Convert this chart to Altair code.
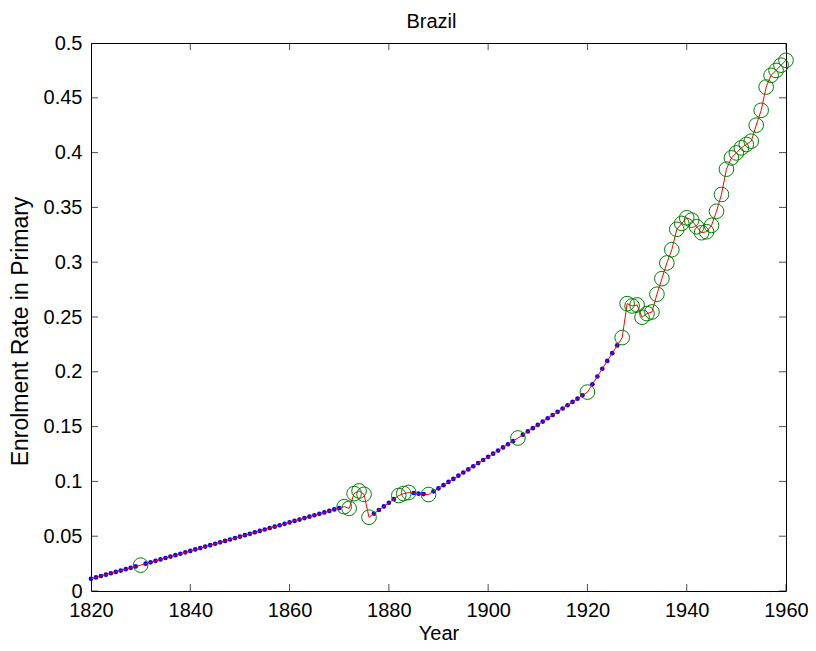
import altair as alt
import pandas as pd

# Observed years (green circles)
obs_years = [1830, 1871, 1872, 1873, 1874, 1875, 1876, 1882, 1883, 1884, 1888,
             1906, 1920, 1927, 1928, 1929, 1930, 1931, 1932, 1933, 1934, 1935,
             1936, 1937, 1938, 1939, 1940, 1941, 1942, 1943, 1944, 1945, 1946,
             1947, 1948, 1949, 1950, 1951, 1952, 1953, 1954, 1955, 1956, 1957,
             1958, 1959, 1960]
obs_values = [0.0236, 0.0770, 0.0754, 0.0889, 0.0913, 0.0882, 0.0673, 0.0871, 0.0889, 0.0899, 0.0880,
              0.1396, 0.1815, 0.2312, 0.2622, 0.2601, 0.2610, 0.2498, 0.2531, 0.2546, 0.2708, 0.2850,
              0.2993, 0.3114, 0.3300, 0.3354, 0.3405, 0.3384, 0.3323, 0.3269, 0.3278, 0.3336, 0.3465,
              0.3618, 0.3849, 0.3952, 0.3997, 0.4043, 0.4074, 0.4104, 0.4250, 0.4386, 0.4598, 0.4705,
              0.4750, 0.4798, 0.4842]

# Filled-in years (blue dots)
fill_years = [1820, 1821, 1822, 1823, 1824, 1825, 1826, 1827, 1828, 1829,
              1831, 1832, 1833, 1834, 1835, 1836, 1837, 1838, 1839, 1840,
              1841, 1842, 1843, 1844, 1845, 1846, 1847, 1848, 1849, 1850,
              1851, 1852, 1853, 1854, 1855, 1856, 1857, 1858, 1859, 1860,
              1861, 1862, 1863, 1864, 1865, 1866, 1867, 1868, 1869, 1870,
              1877, 1878, 1879, 1880, 1881,
              1885, 1886, 1887,
              1889, 1890, 1891, 1892, 1893, 1894, 1895, 1896, 1897, 1898,
              1899, 1900, 1901, 1902, 1903, 1904, 1905,
              1907, 1908, 1909, 1910, 1911, 1912, 1913, 1914, 1915, 1916,
              1917, 1918, 1919,
              1921, 1922, 1923, 1924, 1925, 1926]
fill_values = [0.0112, 0.0124, 0.0137, 0.0149, 0.0162, 0.0174, 0.0186, 0.0199, 0.0211, 0.0224,
               0.0249, 0.0262, 0.0275, 0.0288, 0.0301, 0.0314, 0.0327, 0.0340, 0.0353, 0.0366,
               0.0379, 0.0392, 0.0405, 0.0418, 0.0431, 0.0444, 0.0457, 0.0470, 0.0483, 0.0496,
               0.0509, 0.0522, 0.0535, 0.0548, 0.0561, 0.0574, 0.0587, 0.0600, 0.0613, 0.0626,
               0.0639, 0.0652, 0.0665, 0.0678, 0.0691, 0.0704, 0.0717, 0.0731, 0.0744, 0.0757,
               0.0706, 0.0739, 0.0772, 0.0805, 0.0838,
               0.0894, 0.0888, 0.0884,
               0.0909, 0.0937, 0.0966, 0.0995, 0.1023, 0.1052, 0.1081, 0.1109, 0.1138, 0.1167,
               0.1195, 0.1224, 0.1253, 0.1281, 0.1310, 0.1339, 0.1367,
               0.1426, 0.1456, 0.1486, 0.1516, 0.1546, 0.1576, 0.1606, 0.1635, 0.1665, 0.1695,
               0.1725, 0.1755, 0.1785,
               0.1886, 0.1957, 0.2028, 0.2099, 0.2170, 0.2241]

x_ticks = [1820, 1840, 1860, 1880, 1900, 1920, 1940, 1960]
y_ticks = [0, 0.05, 0.1, 0.15, 0.2, 0.25, 0.3, 0.35, 0.4, 0.45, 0.5]

obs = pd.DataFrame({"year": obs_years, "rate": obs_values})
fill = pd.DataFrame({"year": fill_years, "rate": fill_values})
allp = pd.concat([obs, fill], ignore_index=True).sort_values("year")
xt = pd.DataFrame({"year": x_ticks})
yt = pd.DataFrame({"rate": y_ticks})

W, H = 695, 548
FONT = "Liberation Sans"

xs = alt.Scale(domain=[1820, 1960], nice=False, zero=False)
ys = alt.Scale(domain=[0, 0.5], nice=False)

x_axis = alt.Axis(values=x_ticks, format="d", ticks=False, domain=False, grid=False,
                  labelPadding=9, labelFontSize=20, labelFont=FONT, labelColor="black",
                  title="Year", titleFontSize=20, titleFont=FONT, titleFontWeight="normal",
                  titleColor="black", titleX=W / 2, titleY=48, titleBaseline="alphabetic",
                  titleAlign="center", labelFlush=False)
y_axis = alt.Axis(values=y_ticks, format="~g", ticks=False, domain=False, grid=False,
                  labelPadding=9, labelFontSize=20, labelFont=FONT, labelColor="black",
                  title="Enrolment Rate in Primary", titleFontSize=23, titleFont=FONT,
                  titleFontWeight="normal", titleColor="black", titleX=-64, titleY=288,
                  titleBaseline="alphabetic", titleAlign="center", titleAngle=270,
                  labelFlush=False)

X = alt.X("year:Q", scale=xs, axis=x_axis)
Y = alt.Y("rate:Q", scale=ys, axis=y_axis)

dots = alt.Chart(fill).mark_circle(color="#0000ff", size=22, opacity=1).encode(x=X, y=Y)
line = alt.Chart(allp).mark_line(color="#ff0000", strokeWidth=1).encode(x=X, y=Y, order="year:Q")
circles = alt.Chart(obs).mark_point(shape="circle", filled=False, color="#008000",
                                    size=215, strokeWidth=1, opacity=1).encode(x=X, y=Y)

tb = alt.Chart(xt).mark_tick(color="black", size=14, thickness=1, clip=True,
                             orient="vertical").encode(x=X, y=alt.value(H))
tt = alt.Chart(xt).mark_tick(color="black", size=14, thickness=1, clip=True,
                             orient="vertical").encode(x=X, y=alt.value(0))
tl = alt.Chart(yt).mark_tick(color="black", size=14, thickness=1, clip=True,
                             orient="horizontal").encode(y=Y, x=alt.value(0))
tr = alt.Chart(yt).mark_tick(color="black", size=14, thickness=1, clip=True,
                             orient="horizontal").encode(y=Y, x=alt.value(W))

chart = alt.layer(tb, tt, tl, tr, dots, line, circles).properties(
    width=W, height=H,
    title=alt.TitleParams("Brazil", fontSize=20, font=FONT, fontWeight="normal",
                          color="black", offset=1, dx=-7,
                          frame="group", anchor="middle"),
    padding={"left": 83, "top": 35, "right": 22, "bottom": 52},
    autosize=alt.AutoSizeParams(type="none"),
    background="white",
).configure_view(stroke="black", strokeWidth=1)

chart.save("out.html", embed_options={"renderer": "svg", "actions": False})
